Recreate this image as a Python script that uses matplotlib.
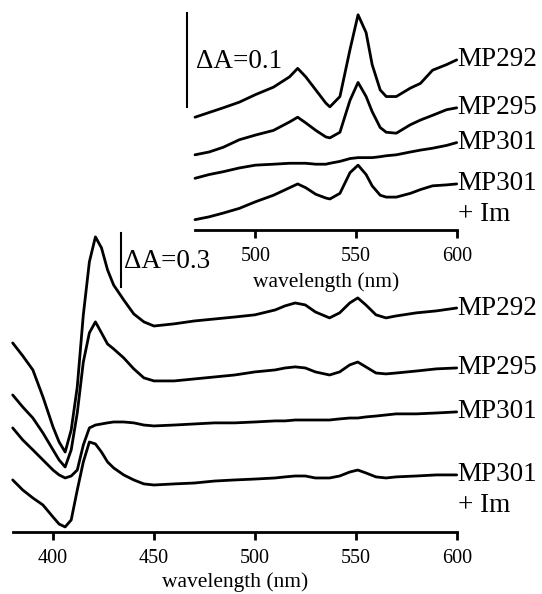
import numpy as np
import matplotlib
matplotlib.use("Agg")
import matplotlib.pyplot as plt

plt.rcParams['font.family'] = ['Liberation Serif', 'DejaVu Serif']

## DATA: difference spectra, stacked (absorbance, offsets included)
wl_main = [380, 385, 390, 395, 400, 403, 406, 409, 412, 415, 418, 421, 424, 427,
           430, 435, 440, 445, 450, 460, 470, 480, 490, 500, 510, 515, 520, 525,
           530, 537, 542, 547, 551, 555, 560, 565, 570, 580, 590, 600]

mp292_main = [1.050, 0.978, 0.900, 0.750, 0.583, 0.500, 0.444, 0.567, 0.806, 1.206,
              1.500, 1.639, 1.578, 1.456, 1.372, 1.289, 1.211, 1.167, 1.144, 1.156,
              1.172, 1.183, 1.194, 1.206, 1.233, 1.256, 1.272, 1.261, 1.222, 1.189,
              1.217, 1.272, 1.300, 1.261, 1.206, 1.189, 1.200, 1.217, 1.228, 1.244]
mp295_main = [0.761, 0.694, 0.633, 0.550, 0.456, 0.400, 0.361, 0.456, 0.661, 0.944,
              1.106, 1.167, 1.106, 1.044, 1.017, 0.967, 0.906, 0.856, 0.839, 0.839,
              0.850, 0.861, 0.872, 0.889, 0.900, 0.911, 0.917, 0.911, 0.889, 0.872,
              0.889, 0.928, 0.944, 0.917, 0.883, 0.878, 0.883, 0.894, 0.906, 0.911]
mp301_main = [0.578, 0.511, 0.456, 0.400, 0.344, 0.317, 0.300, 0.311, 0.344, 0.483,
              0.578, 0.594, 0.600, 0.606, 0.611, 0.611, 0.606, 0.594, 0.589, 0.594,
              0.600, 0.606, 0.606, 0.611, 0.617, 0.617, 0.622, 0.622, 0.622, 0.622,
              0.628, 0.633, 0.633, 0.639, 0.644, 0.650, 0.656, 0.656, 0.661, 0.667]
mp301im_main = [0.289, 0.233, 0.189, 0.150, 0.083, 0.044, 0.028, 0.067, 0.233, 0.389,
                0.500, 0.489, 0.444, 0.389, 0.356, 0.317, 0.289, 0.267, 0.261, 0.267,
                0.272, 0.283, 0.289, 0.294, 0.300, 0.306, 0.311, 0.311, 0.300, 0.300,
                0.311, 0.333, 0.344, 0.328, 0.306, 0.300, 0.306, 0.311, 0.317, 0.317]

wl_inset = [470, 477, 484, 492, 500, 509, 517, 521, 525, 530, 535, 537, 542, 547,
            551, 555, 558, 562, 565, 570, 577, 582, 588, 595, 600]

mp292_inset = [0.120, 0.125, 0.130, 0.136, 0.144, 0.152, 0.163, 0.172, 0.163, 0.149,
               0.135, 0.131, 0.142, 0.192, 0.229, 0.210, 0.176, 0.149, 0.142, 0.142,
               0.151, 0.156, 0.170, 0.176, 0.181]
mp295_inset = [0.080, 0.083, 0.088, 0.096, 0.101, 0.106, 0.115, 0.120, 0.114, 0.106,
               0.099, 0.098, 0.104, 0.138, 0.157, 0.142, 0.126, 0.109, 0.104, 0.103,
               0.112, 0.117, 0.122, 0.128, 0.130]
mp301_inset = [0.055, 0.059, 0.062, 0.066, 0.069, 0.070, 0.071, 0.071, 0.071, 0.070,
               0.070, 0.071, 0.073, 0.076, 0.077, 0.077, 0.077, 0.078, 0.079, 0.080,
               0.083, 0.085, 0.087, 0.090, 0.093]
mp301im_inset = [0.011, 0.014, 0.018, 0.023, 0.030, 0.037, 0.045, 0.049, 0.045, 0.038,
                 0.034, 0.033, 0.039, 0.061, 0.069, 0.059, 0.047, 0.037, 0.035, 0.035,
                 0.039, 0.043, 0.047, 0.048, 0.049]

labels = ['MP292', 'MP295', 'MP301', 'MP301']
main_series = [mp292_main, mp295_main, mp301_main, mp301im_main]
inset_series = [mp292_inset, mp295_inset, mp301_inset, mp301im_inset]

lw = 2.0
lab_fs = 19.5
tick_fs = 14.5


def style_axis(ax, xlim, ylim, ticks, labelpad):
    ax.set_xlim(*xlim)
    ax.set_ylim(*ylim)
    for s in ['left', 'right', 'top']:
        ax.spines[s].set_visible(False)
    ax.spines['bottom'].set_linewidth(2.0)
    ax.set_yticks([])
    ax.set_xticks(ticks)
    ax.tick_params(axis='x', direction='out', length=6, width=2.0,
                   labelsize=tick_fs, pad=6)
    ax.set_xlabel('wavelength (nm)', fontsize=15.5, labelpad=labelpad)
    ax.patch.set_alpha(0)


fig = plt.figure(figsize=(5.42, 5.94), dpi=100)

# main panel
ax = fig.add_axes([0.0234, 0.1044, 0.8192, 0.5253])
style_axis(ax, (380, 600), (0, 1.733), [400, 450, 500, 550, 600], 3.5)
for lab, ys in zip(labels, main_series):
    ax.plot(wl_main, ys, color='black', lw=lw, clip_on=False,
            solid_joinstyle='round', solid_capstyle='round')
    ax.text(600.5, ys[-1], lab, fontsize=lab_fs, ha='left', va='center', clip_on=False)
ax.annotate('+ Im', xy=(600.5, mp301im_main[-1]), xytext=(0, -22),
            textcoords='offset points', fontsize=lab_fs, ha='left', va='center',
            annotation_clip=False)
# scale bar dA = 0.3
ax.plot([433.6, 433.6], [1.361, 1.661], color='black', lw=1.5, clip_on=False)
ax.text(435.0, 1.50, '\u0394A=0.3', fontsize=lab_fs, ha='left', va='center')

# inset panel (visible region)
ax2 = fig.add_axes([0.3598, 0.6128, 0.4828, 0.3788])
style_axis(ax2, (470, 600), (0, 0.2394), [500, 550, 600], 4.5)
for lab, ys in zip(labels, inset_series):
    ax2.plot(wl_inset, ys, color='black', lw=lw, clip_on=False,
             solid_joinstyle='round', solid_capstyle='round')
    ax2.text(600.5, ys[-1], lab, fontsize=lab_fs, ha='left', va='center', clip_on=False)
ax2.annotate('+ Im', xy=(600.5, mp301im_inset[-1]), xytext=(0, -22),
             textcoords='offset points', fontsize=lab_fs, ha='left', va='center',
             annotation_clip=False)
# scale bar dA = 0.1
ax2.plot([466.0, 466.0], [0.131, 0.231], color='black', lw=1.5, clip_on=False)
ax2.text(470.5, 0.179, '\u0394A=0.1', fontsize=lab_fs, ha='left', va='center')

fig.savefig('out.png', dpi=100)
